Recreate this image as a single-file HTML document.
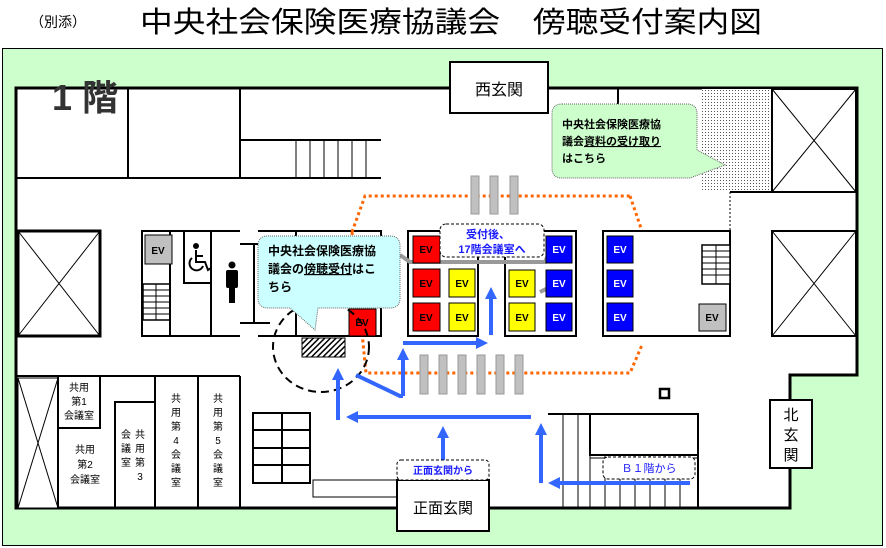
<!DOCTYPE html>
<html><head><meta charset="utf-8"><style>
html,body{margin:0;padding:0;background:#fff;}
svg{display:block;font-family:"Liberation Sans","Noto Sans CJK JP",sans-serif;}
</style></head><body>
<svg width="886" height="548" viewBox="0 0 886 548" xmlns="http://www.w3.org/2000/svg">
<defs>
<pattern id="dots" width="3" height="3" patternUnits="userSpaceOnUse"><rect width="3" height="3" fill="#fff"/><rect width="1" height="1" fill="#555"/></pattern>
<pattern id="hatch" width="4" height="4" patternUnits="userSpaceOnUse" patternTransform="rotate(45)"><rect width="4" height="4" fill="#fff"/><rect width="1.5" height="4" fill="#000"/></pattern>
<marker id="ah" markerWidth="12" markerHeight="12" refX="4" refY="6" orient="auto" markerUnits="userSpaceOnUse"><path d="M0,0 L12,6 L0,12 z" fill="#3366ff"/></marker>
</defs>
<text x="30" y="27" font-size="14">（別添）</text>
<text x="140" y="32" font-size="29" textLength="622" lengthAdjust="spacingAndGlyphs">中央社会保険医療協議会　傍聴受付案内図</text>
<rect x="2.5" y="48.5" width="880" height="497" fill="#ccffcc" stroke="#000" stroke-width="1"/>
<!-- building -->
<polygon points="16,88 857,88 857,375 790,375 790,508 16,508" fill="#fff" stroke="#000" stroke-width="3"/>
<text x="52" y="110" font-size="36" font-weight="bold" fill="#333">1 階</text>
<rect x="450" y="62" width="98" height="51" fill="#fff" stroke="#000" stroke-width="2"/>
<text x="499" y="95" font-size="16" text-anchor="middle">西玄関</text>
<g stroke="#000" stroke-width="2" fill="none">
<line x1="128" y1="88" x2="128" y2="178"/><line x1="240" y1="88" x2="240" y2="178"/>
<line x1="16" y1="178" x2="381" y2="178"/><line x1="240" y1="140" x2="381" y2="140"/>
</g>
<g stroke="#000" stroke-width="1">
<line x1="296" y1="140" x2="296" y2="178"/><line x1="310" y1="140" x2="310" y2="178"/><line x1="324" y1="140" x2="324" y2="178"/><line x1="338" y1="140" x2="338" y2="178"/><line x1="352" y1="140" x2="352" y2="178"/><line x1="366" y1="140" x2="366" y2="178"/>
</g>
<line x1="618" y1="88" x2="618" y2="104" stroke="#000" stroke-width="2"/>
<rect x="702" y="89" width="70" height="103" fill="url(#dots)"/>
<line x1="730" y1="192" x2="730" y2="231" stroke="#000" stroke-dasharray="2,2"/>
<line x1="730" y1="192" x2="857" y2="192" stroke="#000" stroke-width="2"/>
<!-- X boxes -->
<g stroke="#000" fill="#fff">
<rect x="18" y="231" width="82" height="105" stroke-width="3"/>
<line x1="18" y1="231" x2="100" y2="336"/><line x1="100" y1="231" x2="18" y2="336"/>
<rect x="772" y="89" width="84" height="103" stroke-width="2"/>
<line x1="772" y1="89" x2="856" y2="192"/><line x1="856" y1="89" x2="772" y2="192"/>
<rect x="772" y="231" width="84" height="105" stroke-width="2"/>
<line x1="772" y1="231" x2="856" y2="336"/><line x1="856" y1="231" x2="772" y2="336"/>
<rect x="18" y="378" width="40" height="130" stroke-width="1"/>
<line x1="18" y1="378" x2="58" y2="508"/><line x1="58" y1="378" x2="18" y2="508"/>
</g>
<!-- left core -->
<g stroke="#000" stroke-width="2" fill="none">
<polyline points="240,231 142,231 142,336 240,336"/>
<line x1="170" y1="231" x2="170" y2="336"/>
<polyline points="184,231 184,283 211,283 211,231"/>
<line x1="211" y1="231" x2="211" y2="336"/>
<polyline points="258,231 381,231 381,336 258,336"/>
<line x1="296" y1="231" x2="296" y2="336"/>
<line x1="240" y1="244" x2="270" y2="244"/><line x1="240" y1="323" x2="270" y2="323"/><line x1="254" y1="244" x2="254" y2="323"/>
<rect x="143" y="284" width="27" height="36" stroke-width="1.5"/>
</g>
<g stroke="#000" stroke-width="1"><line x1="143" y1="290" x2="170" y2="290"/><line x1="143" y1="296" x2="170" y2="296"/><line x1="143" y1="302" x2="170" y2="302"/><line x1="143" y1="308" x2="170" y2="308"/><line x1="143" y1="314" x2="170" y2="314"/><line x1="156" y1="284" x2="156" y2="320"/></g>
<rect x="145" y="235" width="27" height="29" fill="#c0c0c0" stroke="#000"/>
<text x="158" y="254" font-size="10" font-weight="bold" text-anchor="middle">EV</text>
<!-- wheelchair -->
<g stroke="#000" stroke-width="2" fill="none">
<circle cx="196" cy="246" r="2" fill="#000"/>
<polyline points="196,250 196,262 205,262 208,270 211,268"/>
<line x1="196" y1="256" x2="203" y2="256"/>
<path d="M192,258 A7,7 0 1 0 203,266"/>
</g>
<circle cx="232" cy="265" r="3.5" fill="#000"/><rect x="226" y="270" width="12" height="18" rx="2" fill="#000"/><rect x="229" y="286" width="6" height="17" fill="#000"/>
<!-- orange path -->
<g stroke="#ff6600" stroke-width="3" stroke-dasharray="3,3" fill="none">
<polyline points="630,196 642,231"/>
<polyline points="352,232 365,196 630,196"/>
<polyline points="352,232 366,373 630,373 642,345"/>
</g>
<!-- turnstiles -->
<g fill="#c0c0c0" stroke="#999">
<rect x="471" y="176" width="8" height="38"/><rect x="490" y="176" width="8" height="38"/><rect x="510" y="176" width="8" height="38"/>
<rect x="420" y="355" width="8" height="39"/><rect x="439" y="355" width="8" height="39"/><rect x="458" y="355" width="8" height="39"/><rect x="477" y="355" width="8" height="39"/><rect x="496" y="355" width="8" height="39"/><rect x="515" y="355" width="8" height="39"/>
</g>
<!-- EV groups -->
<g stroke="#000" stroke-width="2" fill="#fff">
<rect x="408" y="231" width="70" height="105"/><rect x="505" y="231" width="71" height="105"/><rect x="603" y="231" width="127" height="105"/>
</g>
<g stroke="#999" stroke-width="4" fill="none"><polyline points="400,255 410,262 545,262 548,255"/><polyline points="540,292 548,288"/></g>
<g stroke="#000" font-size="10" font-weight="bold" text-anchor="middle">
<rect x="413" y="236" width="27" height="27" fill="#f00"/><rect x="413" y="269" width="27" height="28" fill="#f00"/><rect x="413" y="303" width="27" height="28" fill="#f00"/>
<rect x="449" y="269" width="26" height="28" fill="#ff0"/><rect x="449" y="303" width="26" height="28" fill="#ff0"/>
<rect x="509" y="270" width="26" height="27" fill="#ff0"/><rect x="509" y="303" width="26" height="28" fill="#ff0"/>
<rect x="546" y="236" width="26" height="27" fill="#00f"/><rect x="546" y="270" width="26" height="27" fill="#00f"/><rect x="546" y="303" width="26" height="28" fill="#00f"/>
<rect x="607" y="236" width="26" height="27" fill="#00f"/><rect x="607" y="270" width="26" height="27" fill="#00f"/><rect x="607" y="303" width="26" height="28" fill="#00f"/>
<rect x="699" y="304" width="27" height="27" fill="#c0c0c0"/>
<rect x="349" y="309" width="27" height="27" fill="#f00"/>
</g>
<g font-size="10" font-weight="bold" text-anchor="middle">
<text x="426" y="253">EV</text><text x="426" y="287">EV</text><text x="426" y="321">EV</text>
<text x="462" y="287">EV</text><text x="462" y="321">EV</text>
<text x="522" y="287">EV</text><text x="522" y="321">EV</text>
<text x="362" y="326">EV</text><text x="712" y="321">EV</text>
<g fill="#fff"><text x="559" y="253">EV</text><text x="559" y="287">EV</text><text x="559" y="321">EV</text><text x="620" y="253">EV</text><text x="620" y="287">EV</text><text x="620" y="321">EV</text></g>
</g>
<rect x="702" y="245" width="28" height="39" fill="#fff" stroke="#000" stroke-width="1.5"/>
<g stroke="#000" stroke-width="1"><line x1="702" y1="251" x2="730" y2="251"/><line x1="702" y1="257" x2="730" y2="257"/><line x1="702" y1="263" x2="730" y2="263"/><line x1="702" y1="269" x2="730" y2="269"/><line x1="702" y1="275" x2="730" y2="275"/><line x1="716" y1="245" x2="716" y2="284"/></g>
<!-- hatched + circle -->
<rect x="302" y="338" width="43" height="19" fill="url(#hatch)" stroke="#000"/>
<ellipse cx="321" cy="347" rx="48" ry="45" fill="none" stroke="#000" stroke-width="2" stroke-dasharray="8,5"/>
<!-- bottom left rooms -->
<g stroke="#000" stroke-width="2" fill="none">
<line x1="16" y1="376" x2="240" y2="376"/>
<line x1="58" y1="376" x2="58" y2="508"/><line x1="155" y1="376" x2="155" y2="508"/><line x1="198" y1="376" x2="198" y2="508"/><line x1="240" y1="376" x2="240" y2="508"/>
<polyline points="58,428 100,428 100,376"/>
<polyline points="115,508 115,402 155,402"/>
</g>
<g font-size="10" text-anchor="middle">
<text x="79" y="391">共用</text><text x="79" y="405">第1</text><text x="79" y="419">会議室</text>
<text x="85" y="453">共用</text><text x="85" y="468">第2</text><text x="85" y="483">会議室</text>
<text x="176" y="402">共</text><text x="176" y="416">用</text><text x="176" y="430">第</text><text x="176" y="444">4</text><text x="176" y="458">会</text><text x="176" y="472">議</text><text x="176" y="486">室</text>
<text x="218" y="402">共</text><text x="218" y="416">用</text><text x="218" y="430">第</text><text x="218" y="444">5</text><text x="218" y="458">会</text><text x="218" y="472">議</text><text x="218" y="486">室</text>
<text x="140" y="438">共</text><text x="140" y="452">用</text><text x="140" y="466">第</text><text x="140" y="480">3</text>
<text x="126" y="438">会</text><text x="126" y="452">議</text><text x="126" y="466">室</text>
</g>
<!-- bottom stairs -->
<g stroke="#000" stroke-width="2" fill="none">
<rect x="253" y="413" width="57" height="70"/>
<line x1="282" y1="413" x2="282" y2="483"/><line x1="253" y1="430" x2="310" y2="430"/><line x1="253" y1="448" x2="310" y2="448"/><line x1="253" y1="465" x2="310" y2="465"/>
<rect x="313" y="480" width="84" height="17" stroke-width="1"/>
<line x1="548" y1="414" x2="698" y2="414"/><line x1="698" y1="414" x2="698" y2="508"/>
<rect x="590" y="414" width="108" height="41"/>
</g>
<g stroke="#000" stroke-width="1"><line x1="563" y1="414" x2="563" y2="508"/><line x1="578" y1="414" x2="578" y2="508"/><line x1="590" y1="455" x2="590" y2="508"/><line x1="605" y1="455" x2="605" y2="508"/><line x1="620" y1="455" x2="620" y2="508"/><line x1="635" y1="455" x2="635" y2="508"/><line x1="650" y1="455" x2="650" y2="508"/><line x1="665" y1="455" x2="665" y2="508"/><line x1="680" y1="455" x2="680" y2="508"/><line x1="590" y1="458" x2="698" y2="458"/></g>
<rect x="660" y="389" width="9" height="9" fill="none" stroke="#000" stroke-width="2.5"/>
<!-- entrances -->
<rect x="397" y="480" width="92" height="51" fill="#fff" stroke="#000" stroke-width="2"/>
<text x="443" y="513" font-size="15" text-anchor="middle">正面玄関</text>
<rect x="770" y="400" width="42" height="68" fill="#fff" stroke="#000" stroke-width="2"/>
<text x="791" y="420" font-size="15" text-anchor="middle">北</text><text x="791" y="440" font-size="15" text-anchor="middle">玄</text><text x="791" y="460" font-size="15" text-anchor="middle">関</text>
<!-- blue arrows -->
<g stroke="#3366ff" stroke-width="4" fill="none" marker-end="url(#ah)">
<line x1="338" y1="420" x2="338" y2="376"/>
<line x1="531" y1="417" x2="354" y2="417"/>
<line x1="443" y1="460" x2="443" y2="434"/>
<line x1="541" y1="483" x2="541" y2="431"/>
<line x1="690" y1="483" x2="556" y2="483"/>
<line x1="403" y1="396" x2="403" y2="356"/>
<line x1="403" y1="343" x2="480" y2="343"/>
<line x1="491" y1="335" x2="491" y2="295"/>
</g>
<polyline points="356,375 400,396 403,396" stroke="#3366ff" stroke-width="4" fill="none"/>
<!-- labels -->
<rect x="397" y="460" width="92" height="20" rx="4" fill="#fff" stroke="#000" stroke-dasharray="3,2"/>
<text x="443" y="474" font-size="10" font-weight="bold" fill="#1a1aff" text-anchor="middle">正面玄関から</text>
<rect x="603" y="457" width="92" height="22" rx="5" fill="#fff" stroke="#000" stroke-dasharray="3,2"/>
<text x="649" y="472" font-size="11" fill="#1a1aff" text-anchor="middle">Ｂ１階から</text>
<!-- callouts -->
<path d="M268,236 H390 Q400,236 400,246 V298 Q400,308 390,308 H318 L315,330 L290,308 H268 Q258,308 258,298 V246 Q258,236 268,236 Z" fill="#ccffff" stroke="#666" stroke-dasharray="1,1"/>
<g font-size="12" font-weight="bold">
<text x="268" y="255">中央社会保険医療協</text>
<text x="268" y="273">議会の<tspan text-decoration="underline">傍聴受付</tspan>はこ</text>
<text x="268" y="291">ちら</text>
</g>
<path d="M562,104 H687 Q697,104 697,114 V150 L725,165 L690,178 H562 Q552,178 552,168 V114 Q552,104 562,104 Z" fill="#ccffcc" stroke="#666" stroke-dasharray="1,1"/>
<g font-size="11" font-weight="bold">
<text x="562" y="128">中央社会保険医療協</text>
<text x="562" y="145">議会<tspan text-decoration="underline">資料の受け取り</tspan></text>
<text x="562" y="162">はこちら</text>
</g>
<rect x="440" y="224" width="104" height="33" rx="6" fill="#fff" stroke="#000" stroke-dasharray="3,2"/>
<text x="488" y="238" font-size="11" font-weight="bold" fill="#1a1aff" text-anchor="middle">受付後、</text>
<text x="492" y="253" font-size="11" font-weight="bold" fill="#1a1aff" text-anchor="middle">17階会議室へ</text>
</svg>
</body></html>
